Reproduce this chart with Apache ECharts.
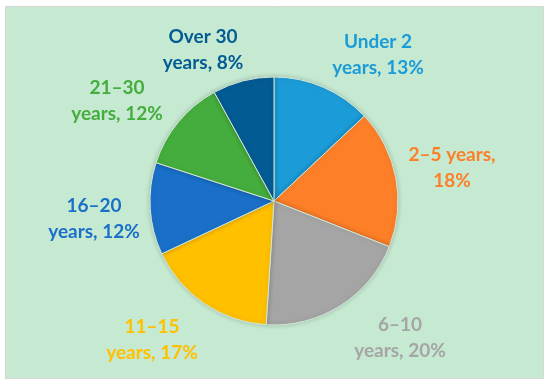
<!DOCTYPE html>
<html>
<head>
<meta charset="utf-8">
<script src="https://cdn.jsdelivr.net/npm/echarts@6/dist/echarts.min.js"></script>
<style>
html,body{margin:0;padding:0;background:#ffffff;}
#main{width:550px;height:386px;}
</style>
</head>
<body>
<div id="main"></div>
<script>
const categories = ['Under 2 years', '2–5 years', '6–10 years', '11–15 years', '16–20 years', '21–30 years', 'Over 30 years'];
const shares = [13, 18, 20, 17, 12, 12, 8];
const colors = ['#1b9bd7', '#fd7f28', '#a5a5a5', '#ffc000', '#1a70c8', '#45ad3d', '#035b94'];
const labelPos = [[378, 55], [452, 168], [400, 338], [152, 340], [94, 219], [117, 101], [203, 50]];

const chart = echarts.init(document.getElementById('main'), null, {renderer: 'canvas'});
chart.setOption({
  backgroundColor: '#ffffff',
  animation: false,
  graphic: [{
    type: 'rect', z: -10, silent: true,
    shape: {x: 5.5, y: 6.5, width: 538, height: 372},
    style: {fill: '#c5e9d1', stroke: '#d6d6d6', lineWidth: 1}
  }],
  series: [{
    type: 'pie',
    center: [274, 201],
    radius: 124,
    startAngle: 90,
    clockwise: true,
    data: categories.map((c, i) => ({
      name: c, value: shares[i],
      itemStyle: {color: colors[i]},
      label: {color: colors[i]}
    })),
    itemStyle: {borderColor: '#d3e8d8', borderWidth: 1, shadowBlur: 5, shadowColor: 'rgba(0,0,0,0.18)'},
    label: {
      show: true,
      position: 'outside',
      fontFamily: 'Lato',
      fontWeight: 'bold',
      fontSize: 19,
      lineHeight: 26,
      formatter: p => p.dataIndex === 1
        ? p.name + ',\n' + p.value + '%'
        : p.name.replace(' years', '\nyears') + ', ' + p.value + '%'
    },
    labelLine: {show: false},
    labelLayout: p => ({x: labelPos[p.dataIndex][0], y: labelPos[p.dataIndex][1], align: 'center', verticalAlign: 'middle'}),
    emphasis: {disabled: true}
  }]
});
</script>
</body>
</html>
